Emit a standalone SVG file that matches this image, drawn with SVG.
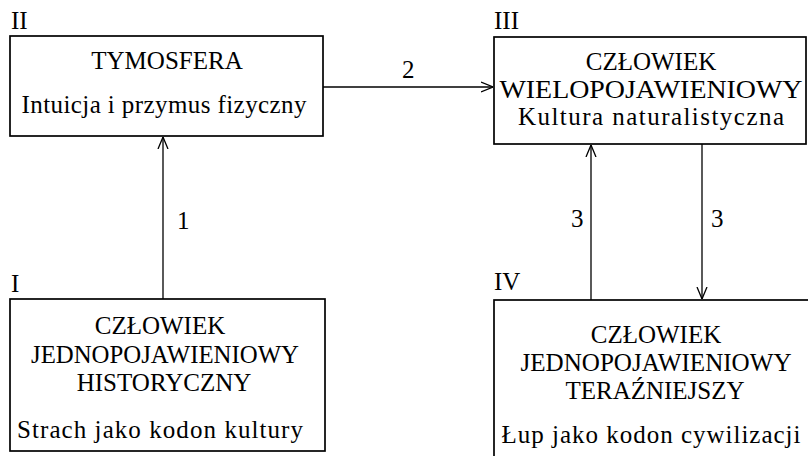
<svg xmlns="http://www.w3.org/2000/svg" width="808" height="456" viewBox="0 0 808 456">
<style>
text{font-family:"Liberation Serif","Times New Roman",serif;font-size:25px;fill:#000}
.c{text-anchor:middle}
.box{fill:#fff;stroke:#000;stroke-width:1.7}
.ln{stroke:#000;stroke-width:1.3;fill:none}
</style>
<defs>
<marker id="ah" viewBox="0 0 12 12" refX="12" refY="6" markerWidth="12" markerHeight="12" markerUnits="userSpaceOnUse" orient="auto">
<path d="M0,1 L12,6 L0,11" fill="none" stroke="#000" stroke-width="1.3"/>
</marker>
</defs>
<rect width="808" height="456" fill="#fff"/>
<g id="connectors">
<line class="ln" x1="163" y1="299" x2="163" y2="137" marker-end="url(#ah)"/>
<text x="177" y="229">1</text>
<line class="ln" x1="323" y1="87" x2="493" y2="87" marker-end="url(#ah)"/>
<text x="402" y="78">2</text>
<line class="ln" x1="591" y1="300" x2="591" y2="145" marker-end="url(#ah)"/>
<text x="571" y="227">3</text>
<line class="ln" x1="702" y1="144" x2="702" y2="299" marker-end="url(#ah)"/>
<text x="711" y="227">3</text>
</g>
<g id="node-II">
<text x="11" y="29">II</text>
<rect class="box" x="10" y="36" width="313" height="100"/>
<text class="c" x="167" y="69">TYMOSFERA</text>
<text class="c" x="164" y="113" textLength="285" lengthAdjust="spacing">Intuicja i przymus fizyczny</text>
</g>
<g id="node-III">
<text x="494" y="29">III</text>
<rect class="box" x="494" y="37" width="312" height="107"/>
<text class="c" x="651" y="70">CZŁOWIEK</text>
<text class="c" x="651" y="98" textLength="303" lengthAdjust="spacingAndGlyphs">WIELOPOJAWIENIOWY</text>
<text class="c" x="651" y="125" textLength="266" lengthAdjust="spacing">Kultura naturalistyczna</text>
</g>
<g id="node-I">
<text x="11" y="292">I</text>
<rect class="box" x="10" y="299" width="315" height="152"/>
<text class="c" x="160" y="334">CZŁOWIEK</text>
<text class="c" x="165" y="363" textLength="268" lengthAdjust="spacingAndGlyphs">JEDNOPOJAWIENIOWY</text>
<text class="c" x="164" y="391">HISTORYCZNY</text>
<text class="c" x="160" y="438" textLength="286" lengthAdjust="spacing">Strach jako kodon kultury</text>
</g>
<g id="node-IV">
<text x="494" y="290">IV</text>
<rect class="box" x="494" y="300" width="320" height="170"/>
<text class="c" x="656" y="343">CZŁOWIEK</text>
<text class="c" x="656" y="371" textLength="271" lengthAdjust="spacingAndGlyphs">JEDNOPOJAWIENIOWY</text>
<text class="c" x="655" y="399">TERAŹNIEJSZY</text>
<text class="c" x="651" y="443" textLength="299" lengthAdjust="spacing">Łup jako kodon cywilizacji</text>
</g>
</svg>
